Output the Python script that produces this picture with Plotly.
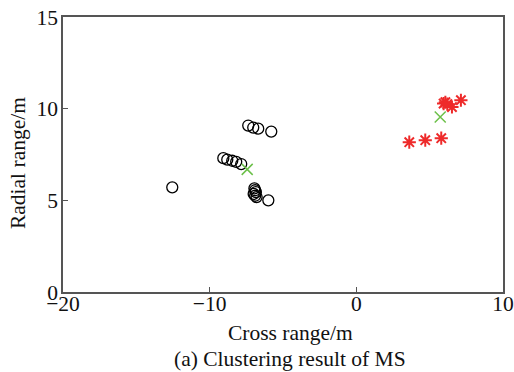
import plotly.graph_objects as go

# Cluster 1 (black circles)
c1_x = [-7.37, -7.03, -6.69, -5.80,
        -9.07, -8.80, -8.46, -8.19, -7.85,
        -6.95, -6.90, -6.85, -7.00, -6.90, -6.80, -6.00,
        -12.55]
c1_y = [9.08, 8.97, 8.91, 8.75,
        7.30, 7.22, 7.16, 7.10, 6.98,
        5.65, 5.55, 5.45, 5.35, 5.25, 5.18, 5.00,
        5.71]
# Cluster 2 (red stars)
c2_x = [3.61, 4.70, 5.79, 5.95, 6.07, 6.20, 6.52, 7.13]
c2_y = [8.17, 8.28, 8.39, 10.28, 10.35, 10.25, 10.09, 10.46]
# Cluster centres (green crosses)
cen_x = [-7.44, 5.72]
cen_y = [6.69, 9.55]

FONT = "Liberation Serif"
FS = 21.5

fig = go.Figure()
fig.add_trace(go.Scatter(x=c1_x, y=c1_y, mode="markers",
                         marker=dict(symbol="circle-open", size=11,
                                     color="black", line=dict(width=1.3))))
fig.add_trace(go.Scatter(x=c2_x, y=c2_y, mode="markers",
                         marker=dict(symbol="asterisk-open", size=11,
                                     color="#ee2a2a", line=dict(width=2, color="#ee2a2a"))))
fig.add_trace(go.Scatter(x=cen_x, y=cen_y, mode="markers",
                         marker=dict(symbol="x-thin-open", size=11,
                                     color="#6cc04a", line=dict(width=1.5, color="#6cc04a"))))

axis_common = dict(showgrid=False, zeroline=False, showline=True, mirror=True,
                   linecolor="#555555", linewidth=1.5, ticks="inside",
                   ticklen=5, tickcolor="#555555", tickwidth=1, automargin=False,
                   tickfont=dict(family=FONT, size=FS, color="#111"))

fig.update_layout(
    width=514, height=372,
    margin=dict(l=63, r=11, t=17, b=80),
    plot_bgcolor="white", paper_bgcolor="white",
    showlegend=False,
    font=dict(family=FONT, size=FS, color="#111"),
    xaxis=dict(range=[-20, 10], tickvals=[-20, -10, 0, 10], ticklabelstandoff=-9,
               **axis_common),
    yaxis=dict(range=[0, 15], tickvals=[0, 5, 10, 15], ticklabelstandoff=-1,
               **axis_common),
    annotations=[
        dict(text="Cross range/m", xref="paper", yref="paper",
             x=0.516, y=-0.149, xanchor="center", yanchor="middle",
             showarrow=False, font=dict(family=FONT, size=FS, color="#111")),
        dict(text="Radial range/m", xref="paper", yref="paper",
             x=0, y=0.469, xanchor="center", yanchor="middle", textangle=-90,
             xshift=-45, showarrow=False,
             font=dict(family=FONT, size=FS, color="#111")),
        dict(text="(a) Clustering result of MS", xref="paper", yref="paper",
             x=0.516, y=-0.244, xanchor="center", yanchor="middle",
             showarrow=False, font=dict(family=FONT, size=FS, color="#111")),
    ],
)

fig.write_html("out.html")
